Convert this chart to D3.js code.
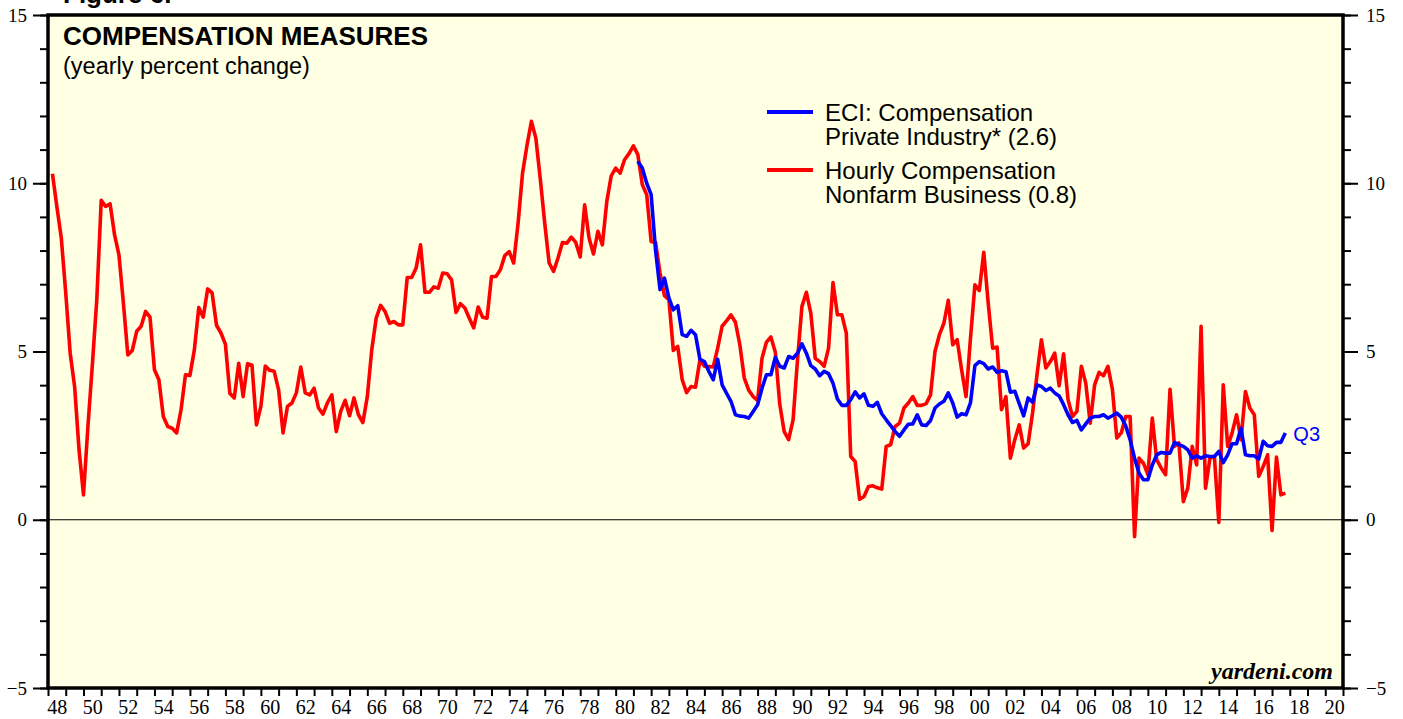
<!DOCTYPE html>
<html>
<head>
<meta charset="utf-8">
<script src="https://cdn.jsdelivr.net/npm/d3@7"></script>
<style>
  body { margin: 0; background: #fff; }
  .axis .domain { display: none; }
  .axis line { stroke: #000; stroke-width: 2; }
</style>
</head>
<body>
<div id="chart"></div>
<script>
// Hourly compensation, nonfarm business (quarterly, yoy %), starts 1948 Q1
const hourlyStart = [1948, 1];
const hourlyComp = [
  10.28, 9.3, 8.37, 6.74, 4.95, 3.96, 2.08, 0.74, 2.77, 4.6, 6.54, 9.49,
  9.31, 9.39, 8.47, 7.87, 6.44, 4.90, 5.03, 5.60, 5.75, 6.19, 6.02, 4.46,
  4.16, 3.07, 2.77, 2.72, 2.58, 3.27, 4.31, 4.29, 5.05, 6.31, 6.02, 6.86,
  6.74, 5.78, 5.55, 5.22, 3.76, 3.62, 4.65, 3.66, 4.64, 4.59, 2.82, 3.37,
  4.57, 4.44, 4.41, 3.86, 2.58, 3.37, 3.47, 3.77, 4.54, 3.77, 3.71, 3.91,
  3.32, 3.14, 3.47, 3.71, 2.62, 3.22, 3.55, 3.09, 3.62, 3.12, 2.89, 3.66,
  5.05, 5.99, 6.37, 6.19, 5.84, 5.89, 5.79, 5.79, 7.20, 7.20, 7.48, 8.17,
  6.76, 6.76, 6.92, 6.88, 7.33, 7.31, 7.13, 6.16, 6.42, 6.29, 5.99, 5.70,
  6.32, 6.02, 5.99, 7.23, 7.23, 7.43, 7.85, 7.97, 7.63, 8.82, 10.30, 11.12,
  11.84, 11.34, 10.13, 8.82, 7.63, 7.38, 7.78, 8.24, 8.22, 8.40, 8.24, 7.81,
  9.36, 8.37, 7.90, 8.57, 8.17, 9.46, 10.22, 10.45, 10.30, 10.70, 10.88, 11.11,
  10.85, 9.96, 9.66, 8.27, 8.24, 7.33, 6.66, 6.54, 5.03, 5.15, 4.16, 3.78,
  3.96, 3.94, 4.75, 4.56, 4.55, 4.54, 5.1, 5.75, 5.91, 6.09, 5.87, 5.2,
  4.21, 3.85, 3.66, 3.55, 4.80, 5.28, 5.43, 4.98, 3.43, 2.62, 2.38, 2.97,
  4.75, 6.34, 6.76, 6.14, 4.80, 4.70, 4.56, 5.10, 7.05, 6.09, 6.09, 5.55,
  1.88, 1.73, 0.61, 0.69, 0.99, 1.01, 0.95, 0.91, 2.18, 2.23, 2.77, 2.87,
  3.32, 3.47, 3.66, 3.40, 3.40, 3.45, 3.71, 5.00, 5.50, 5.84, 6.52, 5.20,
  5.35, 4.46, 3.66, 5.39, 6.98, 6.81, 7.95, 6.44, 5.10, 5.13, 3.27, 3.66,
  1.83, 2.38, 2.82, 2.13, 2.26, 3.17, 4.31, 5.35, 4.51, 4.70, 4.95, 3.98,
  4.93, 3.57, 3.07, 3.22, 4.56, 4.06, 2.87, 4.01, 4.38, 4.28, 4.56, 3.88,
  2.43, 2.58, 3.07, 3.07, -0.50, 1.83, 1.68, 1.34, 3.02, 1.78, 1.54, 1.34,
  3.88, 2.18, 2.28, 0.54, 0.94, 2.18, 1.63, 5.75, 0.94, 1.83, 1.88, -0.08,
  4.01, 2.18, 2.58, 3.12, 2.38, 3.81, 3.32, 3.12, 1.29, 1.58, 1.93, -0.32,
  1.86, 0.74, 0.79
];

// ECI: compensation, private industry (quarterly, yoy %), starts 1981 Q1
const eciStart = [1981, 1];
const eciComp = [
  10.65, 10.45, 10.0, 9.66, 8.0, 6.84, 7.18, 6.59, 6.24, 6.36, 5.50, 5.45,
  5.63, 5.50, 4.77, 4.70, 4.41, 4.16, 4.77, 4.01, 3.76, 3.52, 3.12, 3.08,
  3.07, 3.02, 3.22, 3.42, 3.91, 4.31, 4.31, 4.83, 4.56, 4.51, 4.85, 4.80,
  4.95, 5.23, 4.95, 4.58, 4.48, 4.28, 4.41, 4.34, 4.06, 3.59, 3.40, 3.40,
  3.57, 3.80, 3.62, 3.74, 3.40, 3.37, 3.49, 3.15, 2.97, 2.80, 2.62, 2.48,
  2.67, 2.84, 2.85, 3.12, 2.82, 2.80, 2.95, 3.32, 3.44, 3.52, 3.77, 3.47,
  3.05, 3.15, 3.12, 3.47, 4.58, 4.70, 4.64, 4.48, 4.54, 4.38, 4.43, 4.40,
  3.79, 3.82, 3.45, 3.09, 3.62, 3.49, 4.01, 3.96, 3.84, 3.91, 3.77, 3.68,
  3.42, 3.12, 2.89, 2.95, 2.67, 2.85, 3.02, 3.07, 3.07, 3.12, 3.02, 3.09,
  3.17, 3.05, 2.79, 2.38, 1.83, 1.39, 1.19, 1.19, 1.63, 1.93, 2.00, 1.98,
  1.98, 2.30, 2.23, 2.18, 2.08, 1.83, 1.90, 1.83, 1.90, 1.88, 1.88, 2.03,
  1.70, 1.93, 2.26, 2.26, 2.72, 1.93, 1.90, 1.90, 1.80, 2.33, 2.20, 2.18,
  2.30, 2.30, 2.58
];

const yearTicks = d3.range(1948, 2022);          // one tick per year
const yearLabels = d3.range(1948, 2021, 2);      // labelled every two years
const yMajor = [-5, 0, 5, 10, 15];
const yMinor = d3.range(-5, 16, 1);

const legendItems = [
  { lines: ['ECI: Compensation', 'Private Industry* (2.6)'], color: '#0000ff' },
  { lines: ['Hourly Compensation', 'Nonfarm Business (0.8)'], color: '#ff0000' }
];

// quarter index -> fractional year (quarter plotted at its end)
function toSeries(start, values) {
  return values.map((v, i) => ({ t: start[0] + (start[1] + i) * 0.25, v: v }));
}

const W = 1403, H = 719;
const plot = { left: 48, right: 1343, top: 15, bottom: 688 };
const SERIF = '"Liberation Serif", "Times New Roman", Times, serif';
const SANS = '"Liberation Sans", Arial, Helvetica, sans-serif';

const svg = d3.select('#chart').append('svg')
  .attr('width', W)
  .attr('height', H);

const x = d3.scaleLinear().domain([1948, 2021]).range([plot.left, plot.right]);
const y = d3.scaleLinear().domain([-5, 15]).range([plot.bottom, plot.top]);

// Background
svg.append('rect')
  .attr('x', plot.left).attr('y', plot.top)
  .attr('width', plot.right - plot.left).attr('height', plot.bottom - plot.top)
  .attr('fill', '#ffffe3');

// Figure heading, cut off at the top edge as in the original
svg.append('text')
  .attr('x', 63).attr('y', 3)
  .style('font-family', SANS)
  .style('font-weight', 'bold')
  .style('font-size', '26px')
  .text('Figure 6.');

function styleAxis(g) {
  g.attr('font-family', null).attr('font-size', null);
  g.selectAll('text')
    .style('font-family', SERIF)
    .style('font-size', '19px')
    .style('fill', '#000');
}

// Y axes (minor + major), both sides
svg.append('g').attr('class', 'axis')
  .attr('transform', `translate(${plot.left},0)`)
  .call(d3.axisLeft(y).tickValues(yMinor).tickSize(8).tickFormat(''));
svg.append('g').attr('class', 'axis')
  .attr('transform', `translate(${plot.left},0)`)
  .call(d3.axisLeft(y).tickValues(yMajor).tickSize(15).tickPadding(6).tickFormat(d3.format('d')))
  .call(styleAxis);
svg.append('g').attr('class', 'axis')
  .attr('transform', `translate(${plot.right},0)`)
  .call(d3.axisRight(y).tickValues(yMinor).tickSize(8).tickFormat(''));
svg.append('g').attr('class', 'axis')
  .attr('transform', `translate(${plot.right},0)`)
  .call(d3.axisRight(y).tickValues(yMajor).tickSize(15).tickPadding(8).tickFormat(d3.format('d')))
  .call(styleAxis);

// X axis: year ticks, labels centred in the year
svg.append('g').attr('class', 'axis')
  .attr('transform', `translate(0,${plot.bottom})`)
  .call(d3.axisBottom(x).tickValues(yearTicks).tickSize(8).tickFormat(''));
svg.append('g').attr('class', 'axis')
  .attr('transform', `translate(0,${plot.bottom})`)
  .call(d3.axisBottom(x).tickValues(yearLabels.map(d => d + 0.5)).tickSize(0).tickPadding(12)
    .tickFormat(d => String(Math.floor(d) % 100).padStart(2, '0')))
  .call(styleAxis)
  .call(g => g.selectAll('text').style('font-size', '20px'));

// Zero line
svg.append('line')
  .attr('x1', plot.left).attr('x2', plot.right)
  .attr('y1', y(0)).attr('y2', y(0))
  .attr('stroke', '#000').attr('stroke-width', 1.2);

const line = d3.line().x(d => x(d.t)).y(d => y(d.v));

svg.append('path')
  .datum(toSeries(hourlyStart, hourlyComp))
  .attr('d', line)
  .attr('fill', 'none')
  .attr('stroke', '#ff0000')
  .attr('stroke-width', 3.6)
  .attr('stroke-linejoin', 'round');

const eci = toSeries(eciStart, eciComp);
svg.append('path')
  .datum(eci)
  .attr('d', line)
  .attr('fill', 'none')
  .attr('stroke', '#0000ff')
  .attr('stroke-width', 3.6)
  .attr('stroke-linejoin', 'round');

// Q3 tag at end of ECI line
const last = eci[eci.length - 1];
svg.append('text')
  .attr('x', x(last.t) + 8).attr('y', y(last.v) + 8)
  .style('font-family', SANS)
  .style('font-size', '20px')
  .style('fill', '#0000ff')
  .text('Q3');

// Border
svg.append('rect')
  .attr('x', plot.left).attr('y', plot.top)
  .attr('width', plot.right - plot.left).attr('height', plot.bottom - plot.top)
  .attr('fill', 'none')
  .attr('stroke', '#000')
  .attr('stroke-width', 3.5);

// Title
svg.append('text')
  .attr('x', 63).attr('y', 45)
  .style('font-family', SANS)
  .style('font-weight', 'bold')
  .style('font-size', '26px')
  .text('COMPENSATION MEASURES');
svg.append('text')
  .attr('x', 63).attr('y', 74)
  .style('font-family', SANS)
  .style('font-size', '23.5px')
  .text('(yearly percent change)');

// Legend: one text block per entry, lines as tspans
const legend = svg.append('g').attr('transform', 'translate(767,112)');
legendItems.forEach((item, i) => {
  const row = legend.append('g').attr('transform', `translate(0,${i * 58})`);
  row.append('line')
    .attr('x1', 0).attr('x2', 46)
    .attr('y1', 0).attr('y2', 0)
    .attr('stroke', item.color)
    .attr('stroke-width', 4);
  const txt = row.append('text')
    .attr('y', 9)
    .style('font-family', SANS)
    .style('font-size', '24px');
  item.lines.forEach((t, j) => {
    txt.append('tspan')
      .attr('x', 58)
      .attr('dy', j === 0 ? 0 : 24)
      .text(t);
  });
});

// Source
svg.append('text')
  .attr('x', 1333).attr('y', 679)
  .attr('text-anchor', 'end')
  .style('font-family', SERIF)
  .style('font-weight', 'bold')
  .style('font-style', 'italic')
  .style('font-size', '24px')
  .text('yardeni.com');
</script>
</body>
</html>
